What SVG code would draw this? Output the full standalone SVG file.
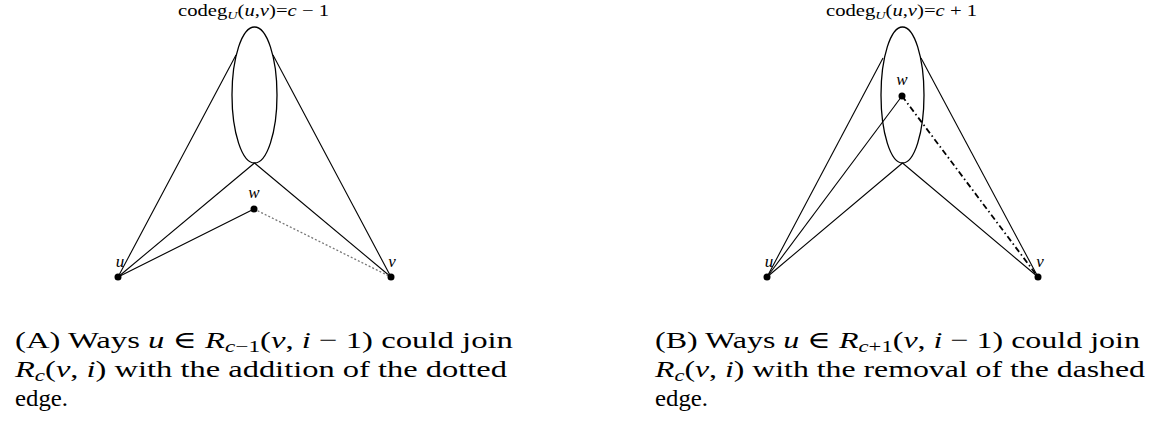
<svg xmlns="http://www.w3.org/2000/svg" width="1163" height="427" viewBox="0 0 1163 427">
<style>
.e{fill:none;stroke:#000;stroke-width:1.3}
.l{stroke:#000;stroke-width:1.1;fill:none}
.dot{fill:#000}
.t{font-family:"Liberation Serif","DejaVu Serif",serif;fill:#000}
.m{font-style:italic}
.lab{font-size:17px}
.cap{font-size:24px}
</style>
<rect width="1163" height="427" fill="#fff"/>
<g id="connectors">
<line class="l" x1="118" y1="277" x2="236" y2="55"/>
<line class="l" x1="391" y1="277" x2="273" y2="55"/>
<line class="l" x1="118" y1="277" x2="254.5" y2="163"/>
<line class="l" x1="391" y1="277" x2="254.5" y2="163"/>
<line class="l" x1="118" y1="277" x2="254" y2="209"/>
<line x1="254" y1="209" x2="391" y2="277" stroke="#777" stroke-width="1.3" stroke-dasharray="2,2"/>
<line class="l" x1="767" y1="277" x2="883" y2="58"/>
<line class="l" x1="1038" y1="277" x2="921" y2="58"/>
<line class="l" x1="767" y1="277" x2="902.5" y2="163"/>
<line class="l" x1="1038" y1="277" x2="902.5" y2="163"/>
<line class="l" x1="767" y1="277" x2="902" y2="96"/>
<line x1="902" y1="96" x2="1038" y2="277" stroke="#000" stroke-width="1.8" stroke-dasharray="6,3,1.5,3"/>
</g>
<g id="setA">
<ellipse class="e" cx="254.5" cy="95" rx="22.5" ry="68"/>
<text class="t" font-size="16" x="178" y="16" textLength="151" lengthAdjust="spacingAndGlyphs">codeg<tspan class="m" font-size="11" dy="3">U</tspan><tspan dy="-3">(</tspan><tspan class="m">u</tspan>,<tspan class="m">v</tspan>)=<tspan class="m">c</tspan> − 1</text>
</g>
<g id="setB">
<ellipse class="e" cx="902.5" cy="95" rx="21.5" ry="68"/>
<text class="t" font-size="16" x="826" y="16" textLength="151" lengthAdjust="spacingAndGlyphs">codeg<tspan class="m" font-size="11" dy="3">U</tspan><tspan dy="-3">(</tspan><tspan class="m">u</tspan>,<tspan class="m">v</tspan>)=<tspan class="m">c</tspan> + 1</text>
</g>
<g id="uA"><circle class="dot" cx="118" cy="277" r="3.5"/><text class="t m lab" x="120" y="267" text-anchor="middle">u</text></g>
<g id="vA"><circle class="dot" cx="391" cy="277" r="3.5"/><text class="t m lab" x="392" y="267" text-anchor="middle">v</text></g>
<g id="wA"><circle class="dot" cx="254" cy="209" r="3.5"/><text class="t m lab" x="254" y="198" text-anchor="middle">w</text></g>
<g id="uB"><circle class="dot" cx="767" cy="277" r="3.5"/><text class="t m lab" x="769" y="267" text-anchor="middle">u</text></g>
<g id="vB"><circle class="dot" cx="1038" cy="277" r="3.5"/><text class="t m lab" x="1040" y="267" text-anchor="middle">v</text></g>
<g id="wB"><circle class="dot" cx="902" cy="96" r="3.5"/><text class="t m lab" x="902" y="85" text-anchor="middle">w</text></g>
<g id="captionA" class="t cap">
<text x="15" y="348" textLength="498" lengthAdjust="spacingAndGlyphs">(A) Ways <tspan class="m">u</tspan> ∈ <tspan class="m">R</tspan><tspan class="m" font-size="17" dy="4">c</tspan><tspan font-size="17">−1</tspan><tspan dy="-4">(</tspan><tspan class="m">v</tspan>, <tspan class="m">i</tspan> − 1) could join</text>
<text x="15" y="377" textLength="492" lengthAdjust="spacingAndGlyphs"><tspan class="m">R</tspan><tspan class="m" font-size="17" dy="4">c</tspan><tspan dy="-4">(</tspan><tspan class="m">v</tspan>, <tspan class="m">i</tspan>) with the addition of the dotted</text>
<text x="15" y="406" textLength="53" lengthAdjust="spacingAndGlyphs">edge.</text>
</g>
<g id="captionB" class="t cap">
<text x="655" y="348" textLength="485" lengthAdjust="spacingAndGlyphs">(B) Ways <tspan class="m">u</tspan> ∈ <tspan class="m">R</tspan><tspan class="m" font-size="17" dy="4">c</tspan><tspan font-size="17">+1</tspan><tspan dy="-4">(</tspan><tspan class="m">v</tspan>, <tspan class="m">i</tspan> − 1) could join</text>
<text x="655" y="377" textLength="490" lengthAdjust="spacingAndGlyphs"><tspan class="m">R</tspan><tspan class="m" font-size="17" dy="4">c</tspan><tspan dy="-4">(</tspan><tspan class="m">v</tspan>, <tspan class="m">i</tspan>) with the removal of the dashed</text>
<text x="655" y="406" textLength="53" lengthAdjust="spacingAndGlyphs">edge.</text>
</g>
</svg>
